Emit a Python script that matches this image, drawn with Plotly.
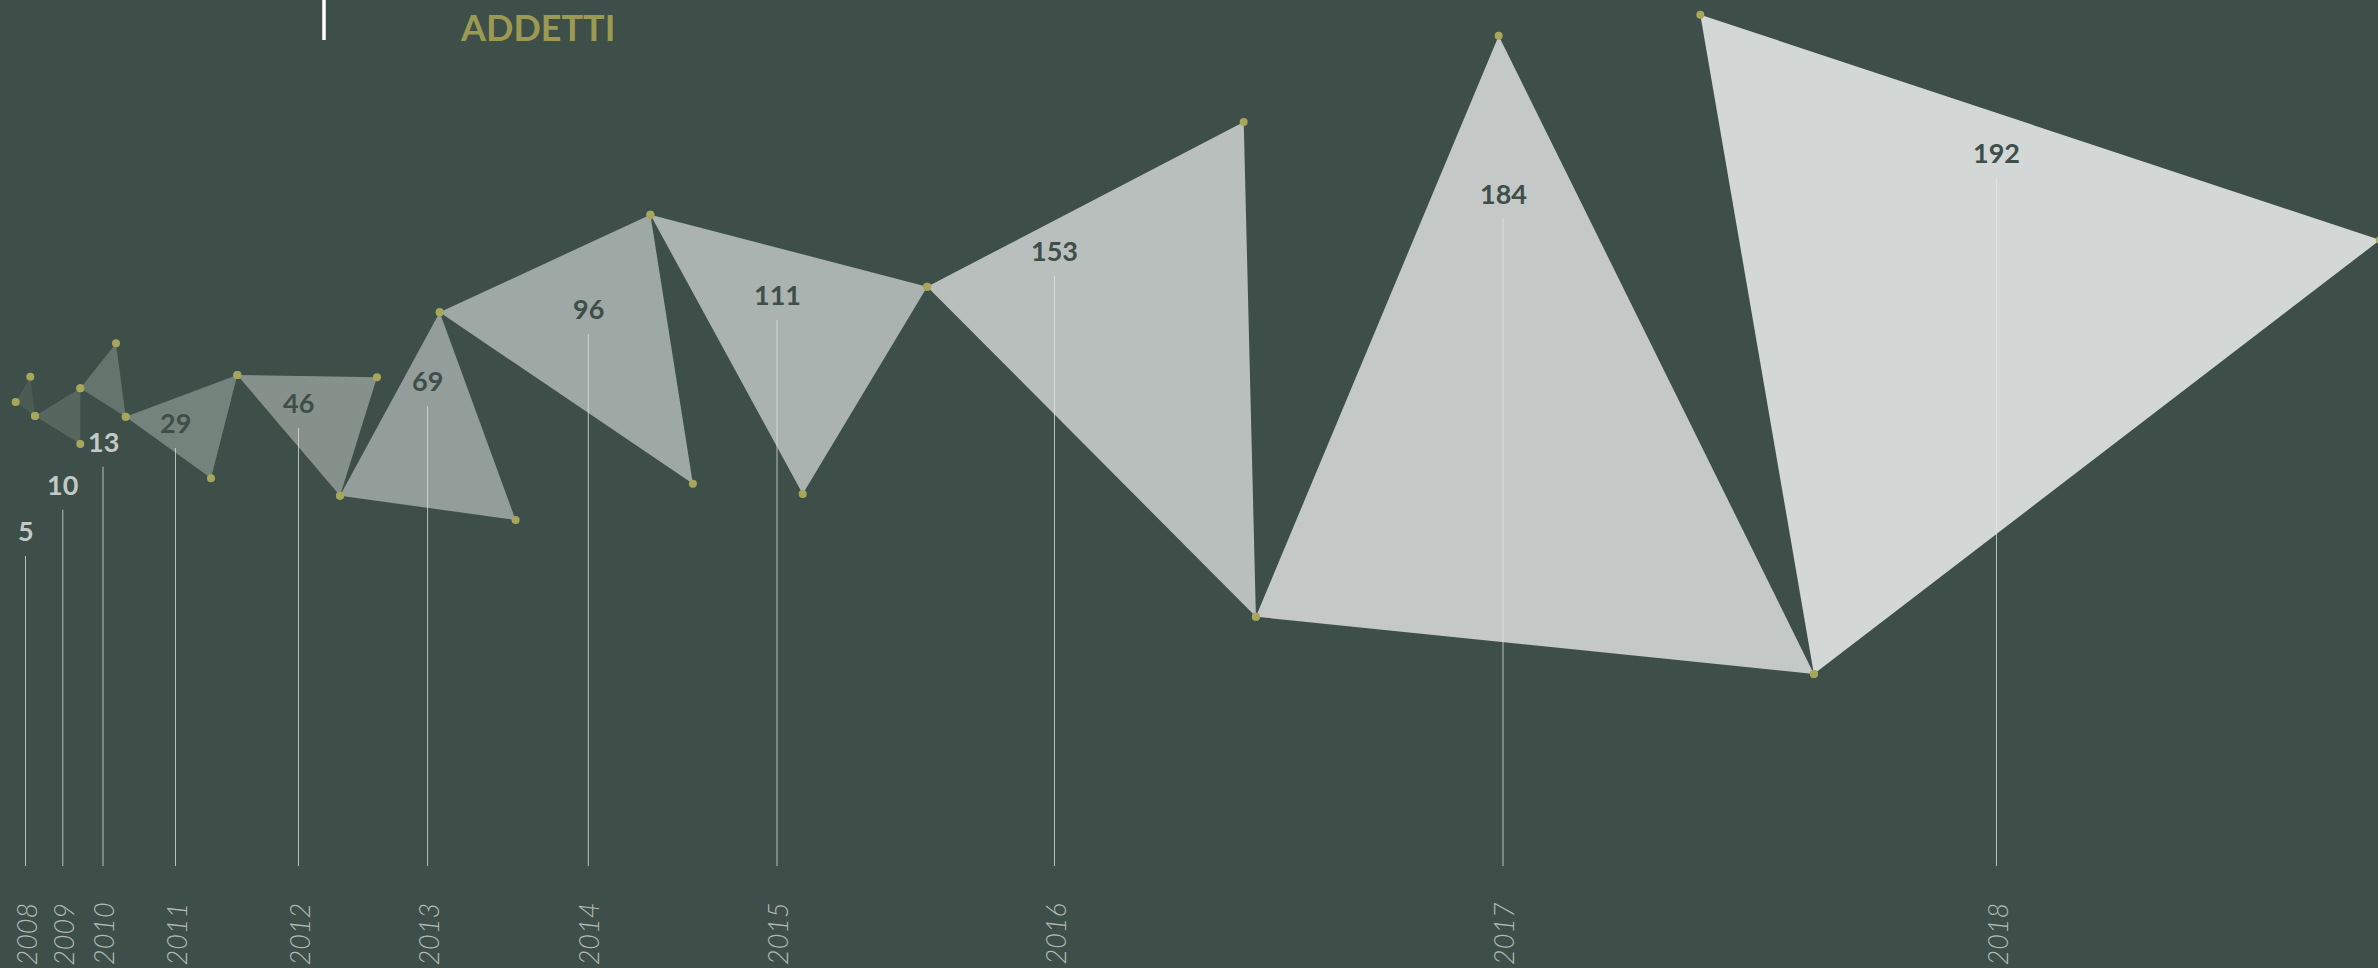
import plotly.graph_objects as go

# ---------------- data ----------------
years = [2008, 2009, 2010, 2011, 2012, 2013, 2014, 2015, 2016, 2017, 2018]
values = [5, 10, 13, 29, 46, 69, 96, 111, 153, 184, 192]

# horizontal position of each year (axis units)
year_x = [25.5, 62.8, 103, 175.5, 298.5, 427.6, 588.3, 777, 1054.5, 1503, 1996.5]
# vertical position of each value label (axis units, measured from top)
label_y = [530.5, 484.2, 441.2, 422.5, 402.5, 380.8, 308.5, 294.5, 250.2, 193.5, 152.5]

# triangle vertices for each year (chained: one vertex shared with the next)
tri_x = [
    [15.7, 30.3, 35.0],
    [35.0, 80.3, 80.3],
    [80.3, 116.0, 125.7],
    [125.7, 237.3, 211.0],
    [237.3, 377.0, 340.0],
    [340.0, 439.7, 515.6],
    [439.7, 650.4, 692.9],
    [650.4, 927.2, 802.7],
    [927.2, 1243.7, 1255.9],
    [1255.9, 1498.7, 1813.9],
    [1813.9, 1700.3, 2380.0],
]
tri_y = [
    [402.0, 376.7, 416.0],
    [416.0, 388.3, 444.0],
    [388.3, 343.3, 416.7],
    [416.7, 375.0, 478.3],
    [375.0, 377.3, 495.7],
    [495.7, 312.3, 520.0],
    [312.3, 214.7, 483.7],
    [214.7, 286.7, 494.0],
    [286.7, 122.0, 616.7],
    [616.7, 35.7, 674.0],
    [674.0, 14.7, 240.0],
]

title_text = "ADDETTI"

# ---------------- style ----------------
BG = "#3d4f48"
DOT = "#a8a65a"
fills = ["#4c5c55", "#57675f", "#65746d", "#74837c", "#86918c", "#939d99",
         "#9ea8a4", "#abb3b0", "#b9bfbc", "#c4c8c7", "#d3d7d6"]
BASE_Y = 866
W, H = 2378, 968

fig = go.Figure()

# triangles
for i in range(len(years)):
    xs = tri_x[i] + [tri_x[i][0]]
    ys = tri_y[i] + [tri_y[i][0]]
    fig.add_trace(go.Scatter(
        x=xs, y=ys, mode="lines", fill="toself",
        fillcolor=fills[i], line=dict(width=0, color=fills[i]),
        hoverinfo="skip", showlegend=False))

# vertical guide lines
lx, ly = [], []
for i in range(len(years)):
    lx += [year_x[i], year_x[i], None]
    ly += [label_y[i] + 25.5, BASE_Y, None]
fig.add_trace(go.Scatter(x=lx, y=ly, mode="lines",
                         line=dict(color="rgba(225,230,227,0.75)", width=1),
                         hoverinfo="skip", showlegend=False))

# vertex dots
dx, dy = [], []
for i in range(len(years)):
    dx += tri_x[i]
    dy += tri_y[i]
fig.add_trace(go.Scatter(x=dx, y=dy, mode="markers",
                         marker=dict(color=DOT, size=8, line=dict(width=0)),
                         hoverinfo="skip", showlegend=False))

annotations = []
for i in range(len(years)):
    col = "#c3c9c6" if values[i] < 20 else "#3d4f48"
    annotations.append(dict(
        x=year_x[i], y=label_y[i], xref="x", yref="y", text=str(values[i]),
        showarrow=False, xanchor="center", yanchor="middle",
        font=dict(family="Lato", size=27, color=col, weight=700)))
    annotations.append(dict(
        x=year_x[i], y=934, xref="x", yref="y", text=str(years[i]),
        showarrow=False, xanchor="center", yanchor="middle", textangle=-90,
        font=dict(family="Lato", size=27, color="#b3bab6", style="italic", weight=300)))

annotations.append(dict(
    x=537.7, y=27, xref="x", yref="y", text=title_text, showarrow=False,
    xanchor="center", yanchor="middle",
    font=dict(family="Lato", size=36, color="#9c9a52", weight=700)))

fig.add_shape(type="line", x0=324, x1=324, y0=0, y1=40, xref="x", yref="y",
              line=dict(color="white", width=3.5))

fig.update_layout(
    width=W, height=H, margin=dict(l=0, r=0, t=0, b=0),
    paper_bgcolor=BG, plot_bgcolor=BG,
    xaxis=dict(range=[0, W], visible=False, fixedrange=True),
    yaxis=dict(range=[H, 0], visible=False, fixedrange=True),
    annotations=annotations, hovermode=False, showlegend=False,
)

fig.write_html("out.html", config={"displayModeBar": False},
               post_script="document.body.style.margin='0';document.body.style.background='" + BG + "';")
